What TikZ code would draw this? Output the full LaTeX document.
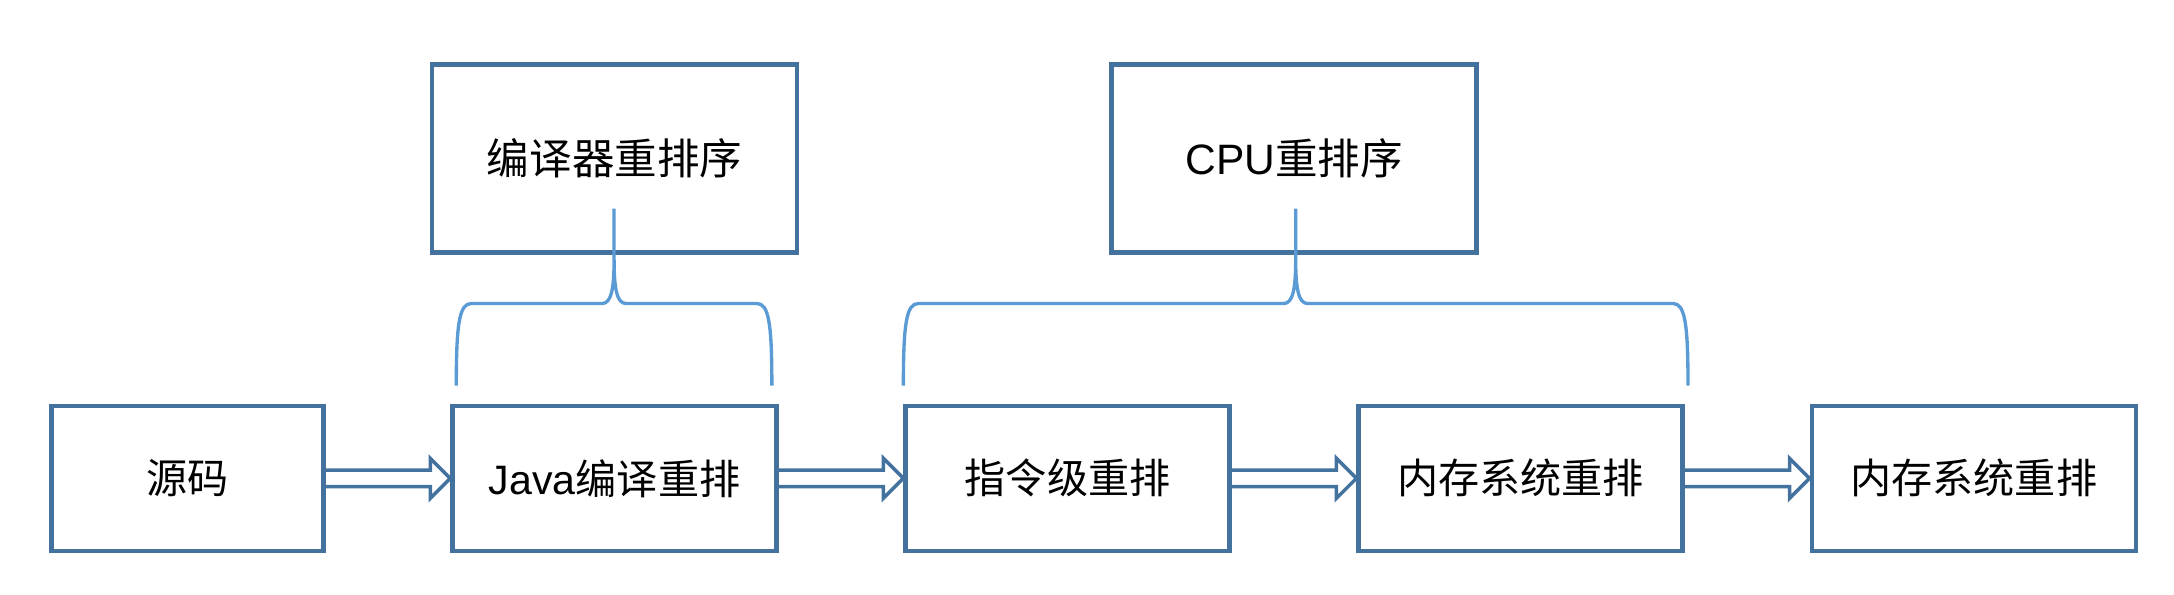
\documentclass[tikz,border=0pt]{standalone}
\usepackage{fontspec}
\setmainfont{Noto Sans CJK SC}
\newfontfamily\latinfont{Liberation Sans}
\usetikzlibrary{positioning,calc}
\definecolor{boxblue}{HTML}{44729F}
\definecolor{braceblue}{HTML}{5B9BD5}
\tikzset{
  stage/.style={draw=boxblue, line width=1.3pt, fill=white, inner sep=0pt,
    minimum width=3.24cm, minimum height=1.45cm, font=\fontsize{11.7pt}{14pt}\selectfont},
  kind/.style={stage, minimum width=3.65cm, minimum height=1.88cm, font=\fontsize{12.1pt}{14pt}\selectfont},
  % hollow double-line arrow
  flow/.style={draw=boxblue, line width=1pt, to path={
    ($(\tikztostart)+(0,0.083)$) -- ($(\tikztotarget)+(-0.2,0.083)$) -- ++(0,0.117)
    -- (\tikztotarget) -- ++(-0.2,-0.2) -- ++(0,0.117) -- ($(\tikztostart)+(0,-0.083)$)}},
  brace/.style={draw=braceblue, line width=0.95pt, to path={
    let \p1=(\tikztostart), \p2=(\tikztotarget), \p3=($(\tikztostart)!0.5!(\tikztotarget)$) in
    (\p1) .. controls (\x1,\y1+0.62cm) and (\x1+0.03cm,\y1+0.82cm) .. (\x1+0.15cm,\y1+0.82cm)
    -- (\x3-0.12cm,\y1+0.82cm) .. controls (\x3-0.03cm,\y1+0.82cm) and (\x3,\y1+0.96cm) .. (\x3,\y1+1.26cm)
    -- (\x3,\y1+1.77cm)
    (\x3,\y1+1.26cm) .. controls (\x3,\y1+0.96cm) and (\x3+0.03cm,\y1+0.82cm) .. (\x3+0.12cm,\y1+0.82cm)
    -- (\x2-0.15cm,\y1+0.82cm) .. controls (\x2-0.03cm,\y1+0.82cm) and (\x2,\y1+0.62cm) .. (\p2)}}
}
\begin{document}
\begin{tikzpicture}
	\useasboundingbox (0,0) rectangle (21.74,5.94);
	\node[stage, minimum width=2.72cm] (src) at (1.875,1.157){源码};
	\node[stage, right=1.245cm of src] (java){{\latinfont Java}编译重排};
	\node[stage, right=1.245cm of java] (inst){指令级重排};
	\node[stage, right=1.245cm of inst] (mem){内存系统重排};
	\node[stage, right=1.245cm of mem] (mem2){内存系统重排};
	\node[kind, above=1.485cm of java] (compiler){编译器重排序};
	\coordinate (mid) at ($(inst.north)!0.5!(mem.north)$);
	\node[kind, above=1.485cm of mid] (cpu){{\latinfont CPU}重排序};
	\draw[flow] (src.east) to (java.west);
	\draw[flow] (java.east) to (inst.west);
	\draw[flow] (inst.east) to (mem.west);
	\draw[flow] (mem.east) to (mem2.west);
	\draw[brace] ($(java.north west)+(0.06,0.18)$) to ($(java.north east)+(-0.07,0.18)$);
	\draw[brace] ($(inst.north west)+(0,0.18)$) to ($(mem.north east)+(0.03,0.18)$);
\end{tikzpicture}
\end{document}
